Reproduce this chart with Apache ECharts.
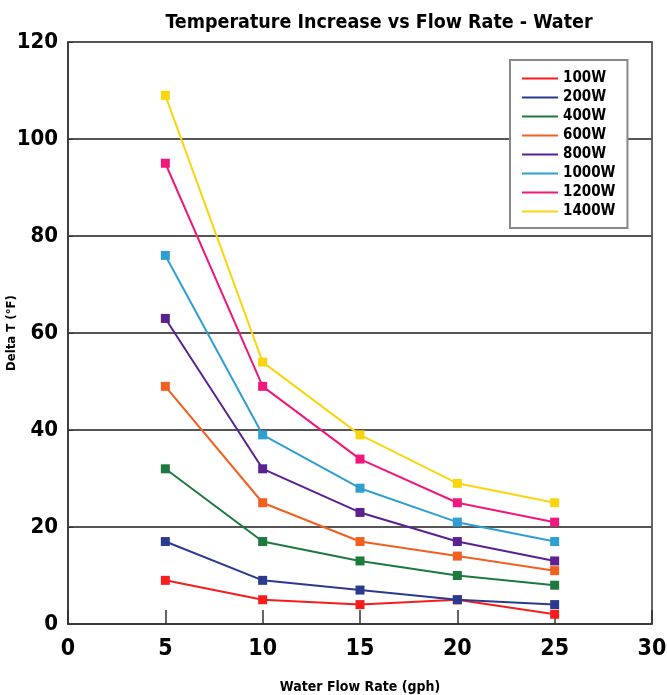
<!DOCTYPE html>
<html><head><meta charset="utf-8">
<script src="https://cdn.jsdelivr.net/npm/echarts@6/dist/echarts.min.js"></script>
<style>html,body{margin:0;padding:0;background:#fff}#c{width:667px;height:695px}</style>
</head><body><div id="c"></div>
<script>
var flowRates = [5, 10, 15, 20, 25];
var seriesNames = ['100W','200W','400W','600W','800W','1000W','1200W','1400W'];
var w100  = [9, 5, 4, 5, 2];
var w200  = [17, 9, 7, 5, 4];
var w400  = [32, 17, 13, 10, 8];
var w600  = [49, 25, 17, 14, 11];
var w800  = [63, 32, 23, 17, 13];
var w1000 = [76, 39, 28, 21, 17];
var w1200 = [95, 49, 34, 25, 21];
var w1400 = [109, 54, 39, 29, 25];
var seriesValues = [w100, w200, w400, w600, w800, w1000, w1200, w1400];
var colors = ['#f51d1d','#2a3a8e','#1d7a3e','#f2601f','#5b2190','#2f9fd2','#f0187c','#fbd50f'];

var FONT = "'DejaVu Sans Condensed', 'Liberation Sans Narrow', 'Liberation Sans', Arial, sans-serif";
var chart = echarts.init(document.getElementById('c'), null, {renderer:'canvas'});
var series = seriesNames.map(function(n, i){
  return {
    name: n, type: 'line',
    data: flowRates.map(function(x, j){ return [x, seriesValues[i][j]]; }),
    symbol: 'rect', symbolSize: 9, showSymbol: true,
    lineStyle: {width: 2, color: colors[i]},
    itemStyle: {color: colors[i]},
    z: 3 + i, animation: false
  };
});
chart.setOption({
  animation: false,
  title: {text: 'Temperature Increase vs Flow Rate - Water', left: 374, top: 8, textAlign: 'center',
    textStyle: {fontFamily: FONT, fontWeight: 'bold', fontSize: 19.5, color: '#000'}},
  grid: {left: 68, right: 15, top: 42, bottom: 71, show: true, borderColor: '#333', borderWidth: 1.5,
    backgroundColor: 'transparent', containLabel: false, outerBoundsMode: 'none'},
  legend: {
    orient: 'vertical', left: 510, top: 60, width: 118,
    backgroundColor: '#fff', borderColor: '#888', borderWidth: 2,
    padding: [11, 12, 9, 12], itemGap: 4, itemWidth: 36, itemHeight: 16,
    icon: 'path://M0,7 L36,7 L36,9 L0,9 Z',
    textStyle: {fontFamily: FONT, fontWeight: 'bold', fontSize: 15, color: '#000'},
    data: seriesNames
  },
  xAxis: {
    type: 'value', min: 0, max: 30, interval: 5,
    name: 'Water Flow Rate (gph)', nameLocation: 'middle', nameGap: 56,
    nameTextStyle: {fontFamily: FONT, fontWeight: 'bold', fontSize: 14, color: '#000'},
    axisLine: {show: true, lineStyle: {color: '#333', width: 1.5}},
    axisTick: {show: true, inside: true, length: 14, lineStyle: {color: '#333', width: 1.5}},
    axisLabel: {fontFamily: FONT, fontWeight: 'bold', fontSize: 23, color: '#000', margin: 14},
    splitLine: {show: false}
  },
  yAxis: {
    type: 'value', min: 0, max: 120, interval: 20,
    name: 'Delta T (°F)', nameLocation: 'middle', nameGap: 50, nameRotate: 90, nameMoveOverlap: false,
    nameTextStyle: {fontFamily: FONT, fontWeight: 'bold', fontSize: 13, color: '#000'},
    axisLine: {show: true, lineStyle: {color: '#333', width: 1.5}},
    axisTick: {show: true, inside: true, length: 5, lineStyle: {color: '#333'}},
    axisLabel: {fontFamily: FONT, fontWeight: 'bold', fontSize: 22, color: '#000', margin: 10},
    splitLine: {show: true, lineStyle: {color: '#555', width: 2}}
  },
  series: series
});
</script></body></html>
